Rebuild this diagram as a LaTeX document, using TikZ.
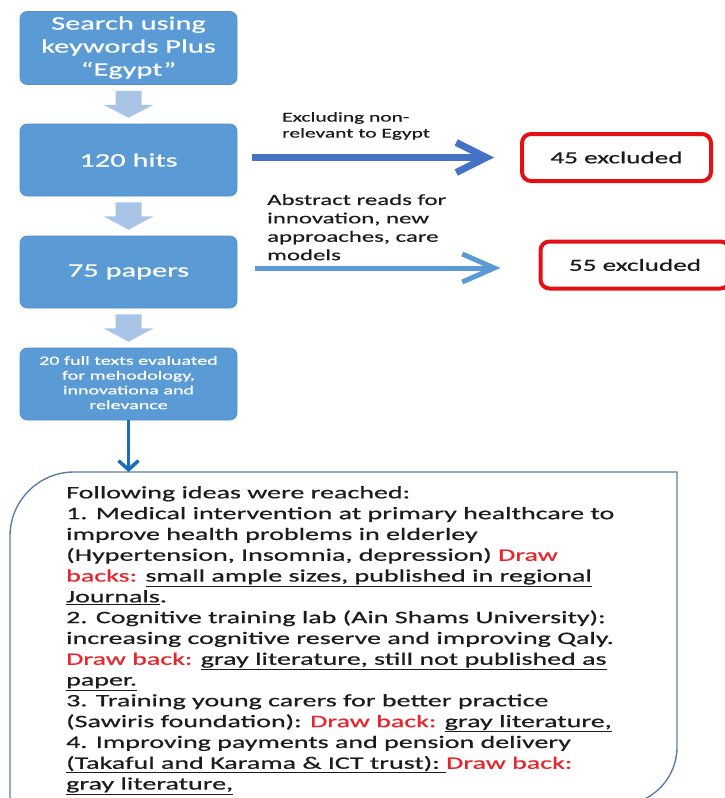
\documentclass[tikz,border=0pt]{standalone}
\usepackage{fontspec}
\setmainfont{Carlito}[FakeStretch=1.6,FakeBold=0.6]
\usetikzlibrary{arrows.meta,calc}
\definecolor{boxblue}{RGB}{91,155,213}
\definecolor{lightblue}{RGB}{168,196,230}
\definecolor{arrowA}{RGB}{68,114,196}
\definecolor{arrowB}{RGB}{91,155,213}
\definecolor{arrowC}{RGB}{28,108,190}
\definecolor{exred}{RGB}{228,16,20}
\definecolor{dbred}{RGB}{234,36,44}
\definecolor{bigborder}{RGB}{92,126,164}
\definecolor{txt}{RGB}{28,28,28}
\newcommand\rd[1]{\textcolor{dbred}{#1}}
\newcommand\uln[1]{\underline{#1}}
\newcommand\blockarrow[2]{%
  \fill[lightblue] ($(#1.south)+(-13,6)$) -- ($(#1.south)+(13,6)$) -- ($(#1.south)+(13,20)$) -- ($(#1.south)+(25,20)$) -- ($(#2.north)+(0,-6)$) -- ($(#1.south)+(-25,20)$) -- ($(#1.south)+(-13,20)$) -- cycle;}
\begin{document}
\begin{tikzpicture}[x=1pt,y=-1pt,
  bluebox/.style={fill=boxblue, draw=boxblue!92!black, line width=0.6pt, rounded corners=7pt,
    minimum width=217pt, minimum height=72pt, text=white, align=center, inner sep=2pt},
  exbox/.style={draw=exred, line width=4pt, rounded corners=9pt, fill=white,
    minimum width=189pt, minimum height=47pt, text=txt, font=\fontsize{17}{20}\selectfont},
  label/.style={anchor=north west, inner sep=0pt, align=left, text=txt},
  sidearrowA/.style={draw=arrowA, line width=7pt, -{Straight Barb[length=30pt,width=30pt]}},
  sidearrowB/.style={draw=arrowB, line width=5pt, -{Straight Barb[length=32pt,width=28pt]}},
  downarrow/.style={draw=arrowC, line width=3.5pt, -{Straight Barb[length=9pt,width=20pt]}},
  bigbox/.style={draw=bigborder, line width=1.4pt, fill=white}]
\useasboundingbox (0,0) rectangle (724,798);

% blue flow boxes
\node[bluebox, font=\fontsize{19}{23}\selectfont] (b1) at (128.5,48) {\raisebox{-3pt}{\begin{tabular}{@{}c@{}}Search using\\keywords Plus\\“Egypt”\end{tabular}}};
\node[bluebox, font=\fontsize{19}{23}\selectfont] (b2) at (128.5,160) {120 hits};
\node[bluebox, font=\fontsize{19}{23}\selectfont] (b3) at (128.5,272) {75 papers};
\node[bluebox, font=\fontsize{12.5}{14.8}\selectfont] (b4) at (128.5,384) {\raisebox{-2pt}{\begin{tabular}{@{}c@{}}20 full texts evaluated\\for mehodology,\\innovationa and\\relevance\end{tabular}}};

% light block arrows
\blockarrow{b1}{b2}
\blockarrow{b2}{b3}
\blockarrow{b3}{b4}

% excluded boxes
\node[exbox] (ex1) at (616.5,157.5) {45 excluded};
\node[exbox] (ex2) at (635,265) {55 excluded};

% side arrows
\draw[sidearrowA, shorten <=15pt, shorten >=26pt] (b2.east |- ex1.west) -- (ex1.west);
\draw[sidearrowB, shorten <=18pt, shorten >=38pt] ([yshift=4pt]b3.east) -- ([yshift=4pt]b3.east -| ex2.west);

% side labels
\node[label, font=\fontsize{13.4}{16}\selectfont] (l1) at (282,112) {Excluding non-\\relevant to Egypt};
\node[label, font=\fontsize{15.5}{18.4}\selectfont] (l2) at (267,194) {Abstract reads for\\innovation, new\\approaches, care\\models};

% big result box
\draw[bigbox] (10,805) -- (10,536) .. controls (10,500.7) and (38.7,472) .. (74,472)
  -- (677,472) -- (677,747) .. controls (677,779) and (651,805) .. (619,805) -- cycle;
\coordinate (bigtop) at (128.5,472);
\draw[downarrow] (b4.south) -- (bigtop);

\node[label, font=\fontsize{17.5}{20.8}\selectfont] (ideas) at (66,486) {Following ideas were reached:\\
1. Medical intervention at primary healthcare to\\
improve health problems in elderley\\
(Hypertension, Insomnia, depression) \rd{Draw}\\
\rd{backs:} \uln{small ample sizes, published in regional}\\
\uln{Journals}.\\
2. Cognitive training lab (Ain Shams University):\\
increasing cognitive reserve and improving Qaly.\\
\rd{Draw back:} \uln{gray literature, still not published as}\\
\uln{paper.}\\
3. Training young carers for better practice\\
(Sawiris foundation): \rd{Draw back:} \uln{gray literature,}\\
4. Improving payments and pension delivery\\
\uln{(Takaful and Karama \& ICT trust):\ }\rd{Draw back:}\\
\uln{gray literature,}};
\end{tikzpicture}
\end{document}
